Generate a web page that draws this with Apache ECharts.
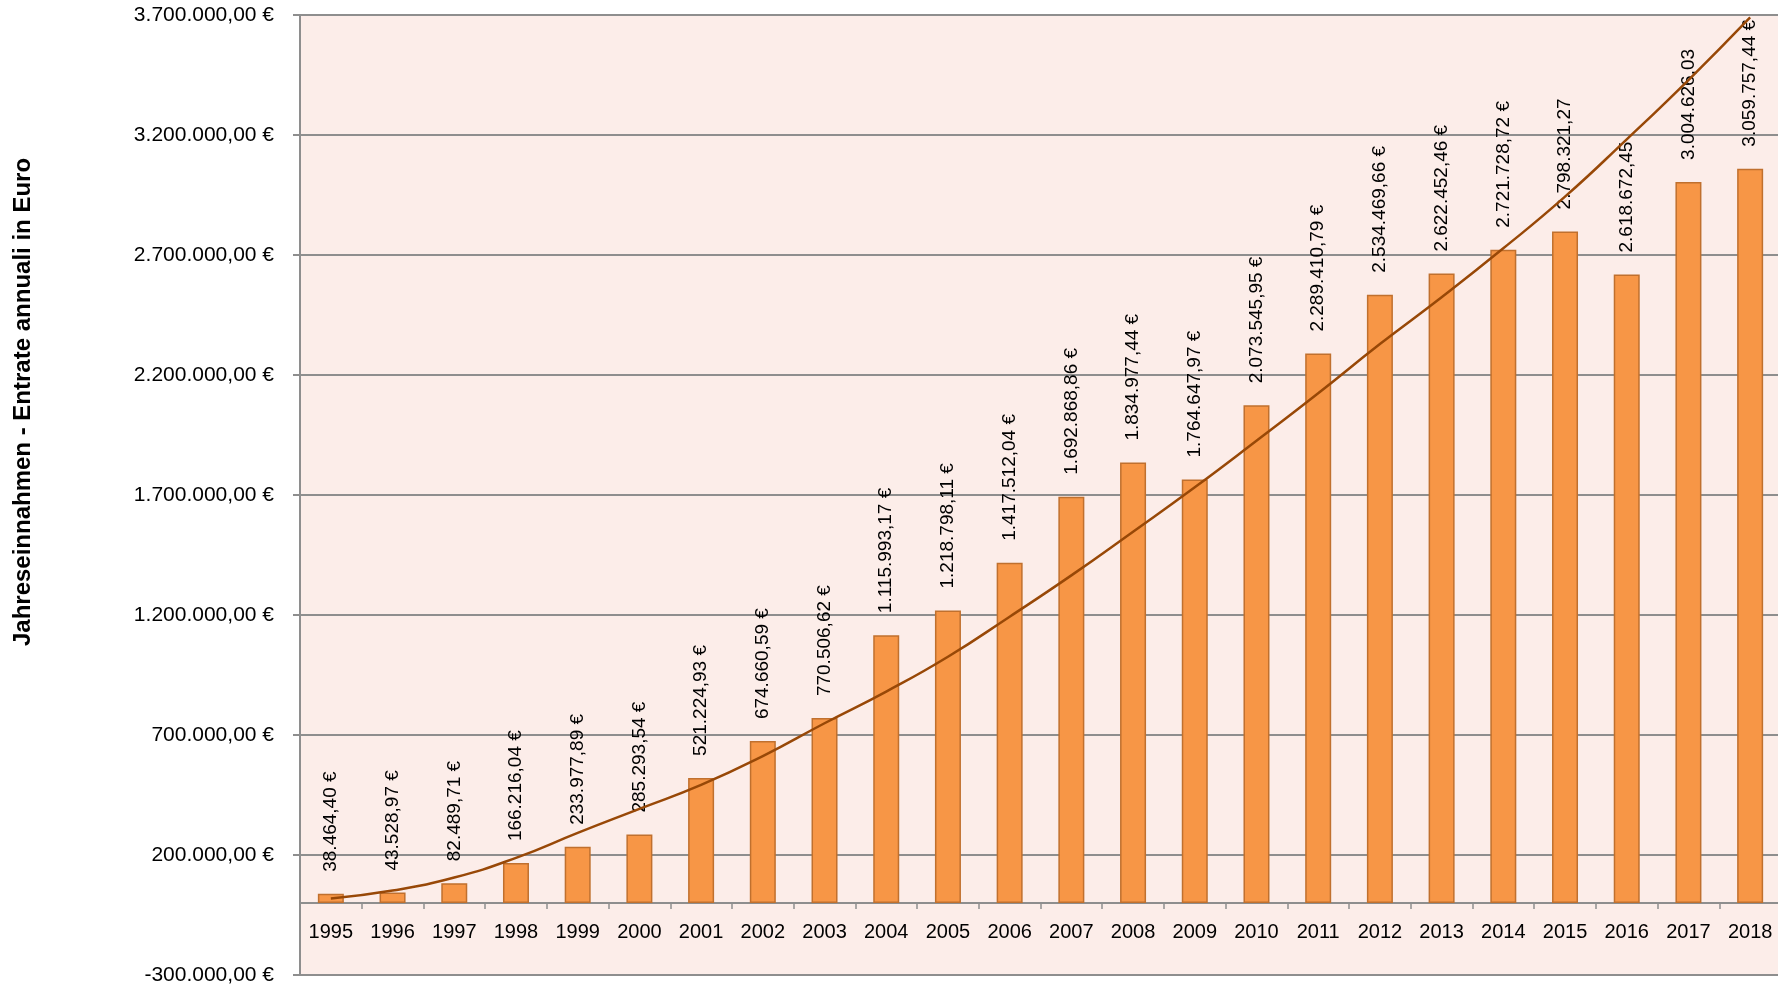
<!DOCTYPE html>
<html>
<head>
<meta charset="utf-8">
<style>
  html, body { margin: 0; padding: 0; background: #fff; }
  #main { width: 1778px; height: 988px; }
</style>
<script src="https://cdn.jsdelivr.net/npm/echarts@6/dist/echarts.min.js"></script>
</head>
<body>
<div id="main"></div>
<script>
  var years = ['1995', '1996', '1997', '1998', '1999', '2000', '2001', '2002', '2003', '2004', '2005', '2006',
    '2007', '2008', '2009', '2010', '2011', '2012', '2013', '2014', '2015', '2016', '2017', '2018'];
  var revenues = [38464.40, 43528.97, 82489.71, 166216.04, 233977.89, 285293.54, 521224.93, 674660.59,
    770506.62, 1115993.17, 1218798.11, 1417512.04, 1692868.86, 1834977.44, 1764647.97, 2073545.95,
    2289410.79, 2534469.66, 2622452.46, 2721728.72, 2798321.27, 2618672.45, 3004626.03, 3059757.44];
  // trend line
  var trend = [19000, 52000, 106000, 188000, 292000, 392000, 492000, 612000, 749000, 881000, 1026000, 1193000,
    1365000, 1547000, 1732000, 1926000, 2124000, 2329000, 2524000, 2728000, 2943000, 3182000, 3429000, 3690000];
  // these labels have no euro sign in the original
  var noEuroYears = ['2015', '2016', '2017'];
  var yMin = -300000, yMax = 3700000, yStep = 500000;
  var yTitle = 'Jahreseinnahmen - Entrate annuali in Euro';

  var font = '"Liberation Sans", Arial, Helvetica, sans-serif';
  var gridColor = '#8e8e8e';
  var plotHeight = 960;

  function euro(v) {
    var neg = v < 0;
    var parts = Math.abs(v).toFixed(2).split('.');
    var intPart = parts[0].replace(/\B(?=(\d{3})+(?!\d))/g, '.');
    return (neg ? '-' : '') + intPart + ',' + parts[1];
  }

  var myChart = echarts.init(document.getElementById('main'));
  myChart.setOption({
    animation: false,
    backgroundColor: '#fff',
    textStyle: { fontFamily: font },
    grid: {
      left: 300,
      top: 15,
      width: 1481,
      height: plotHeight,
      outerBoundsMode: 'none',
      containLabel: false,
      show: true,
      backgroundColor: '#fcede9',
      borderWidth: 0
    },
    graphic: [{
      type: 'text',
      x: 23,
      y: 402,
      rotation: Math.PI / 2,
      style: {
        text: yTitle,
        fill: '#000',
        font: 'bold 24px ' + font,
        align: 'center',
        verticalAlign: 'middle'
      }
    }],
    xAxis: {
      type: 'category',
      data: years,
      position: 'bottom',
      // move the axis up to the zero line
      offset: -plotHeight * (0 - yMin) / (yMax - yMin),
      axisLine: { onZero: false, lineStyle: { color: gridColor, width: 2 } },
      axisTick: { show: true, length: 6, lineStyle: { color: gridColor, width: 1.5 } },
      axisLabel: { color: '#000', fontSize: 20, margin: 19 }
    },
    yAxis: {
      type: 'value',
      min: yMin,
      max: yMax,
      interval: yStep,
      axisLine: { show: true, lineStyle: { color: gridColor, width: 2 } },
      axisTick: { show: true, length: 7, lineStyle: { color: gridColor, width: 2 } },
      axisLabel: {
        color: '#000',
        fontSize: 21,
        margin: 26,
        formatter: function (v) { return euro(v) + ' €'; }
      },
      splitLine: { lineStyle: { color: gridColor, width: 2 } }
    },
    series: [
      {
        name: 'Einnahmen',
        type: 'bar',
        barWidth: 26,
        data: revenues,
        itemStyle: { color: '#f79646', borderColor: '#c0702e', borderWidth: 1.5 },
        label: {
          show: true,
          position: 'top',
          distance: 22,
          rotate: 90,
          align: 'left',
          verticalAlign: 'middle',
          color: '#000',
          fontSize: 19,
          formatter: function (p) {
            return euro(p.value) + (noEuroYears.indexOf(p.name) >= 0 ? '' : ' €');
          }
        }
      },
      {
        name: 'Trend',
        type: 'line',
        z: 5,
        smooth: true,
        symbol: 'none',
        data: trend,
        lineStyle: { color: '#984807', width: 2.5 }
      }
    ]
  });

  window.addEventListener('resize', function () {
    myChart.resize();
  });
</script>
</body>
</html>
